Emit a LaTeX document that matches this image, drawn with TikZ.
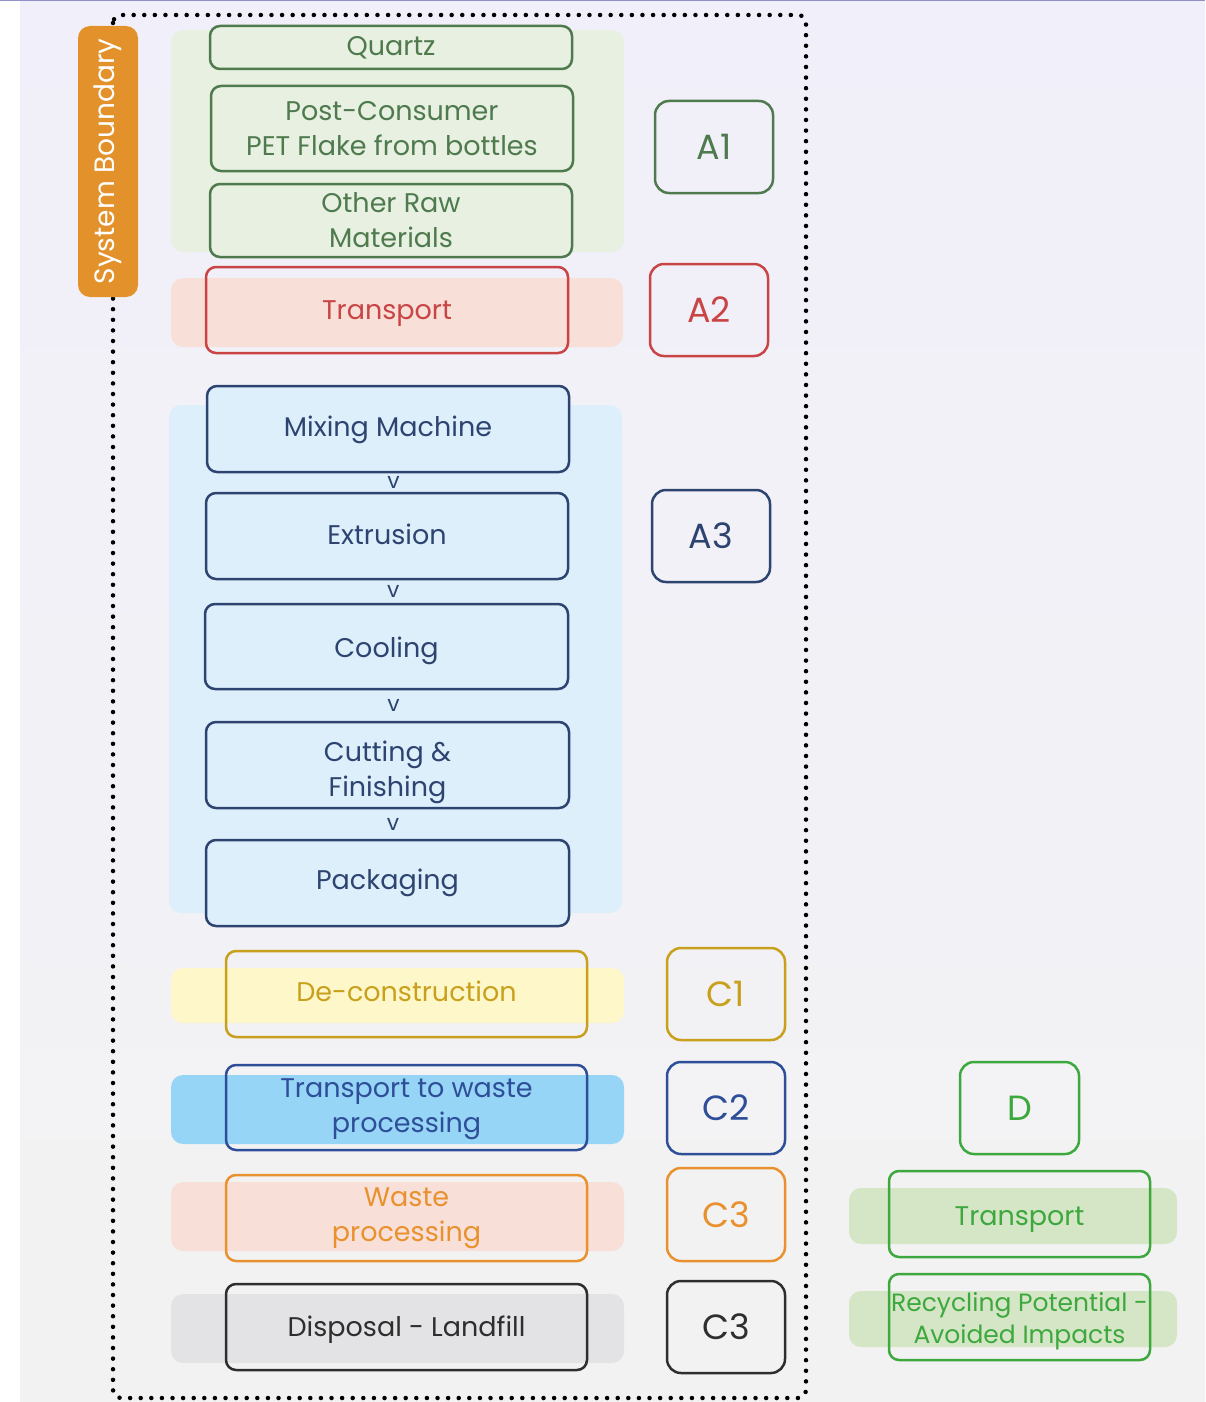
\documentclass[tikz,border=0pt]{standalone}
\usepackage{fontspec}
\setmainfont{Poppins}
\usetikzlibrary{positioning,calc}
\definecolor{bgtop}{HTML}{F1F0FA}
\definecolor{bgbot}{HTML}{F3F2F2}
\definecolor{topline}{HTML}{9191C8}
\definecolor{sysor}{HTML}{E3912A}
\definecolor{gA}{HTML}{4E7A4E}
\definecolor{gAbg}{HTML}{E7F0E1}
\definecolor{rA}{HTML}{C94444}
\definecolor{rAbg}{HTML}{F8DFD7}
\definecolor{nA}{HTML}{2D4470}
\definecolor{nAbg}{HTML}{DEEFFC}
\definecolor{gold}{HTML}{C9A01C}
\definecolor{goldbg}{HTML}{FEF7C9}
\definecolor{bC}{HTML}{2E4E99}
\definecolor{bCbg}{HTML}{96D5F6}
\definecolor{oC}{HTML}{E8912E}
\definecolor{oCbg}{HTML}{F8E0D9}
\definecolor{kC}{HTML}{2E2E2E}
\definecolor{kCbg}{HTML}{E3E3E6}
\definecolor{gD}{HTML}{3DA83D}
\definecolor{gDbg}{HTML}{D4E6C6}
\begin{document}
\begin{tikzpicture}[x=1pt,y=-1pt,
  boxfont/.style={font=\fontsize{27}{35}\selectfont},
  box/.style={draw, rounded corners=10pt, line width=2.5pt, inner sep=0pt,
    align=center, boxfont},
  stagebox/.style={draw, rounded corners=14pt, line width=2.5pt, inner sep=0pt,
    minimum width=118pt, minimum height=92pt, font=\fontsize{35}{40}\selectfont},
  band/.style={rounded corners=12pt},
  chev/.style={text=nA, inner sep=0pt, font=\fontsize{22}{22}\selectfont},
  dots/.style={line width=4.5pt, line cap=round, dash pattern=on 0pt off 10.6pt}
]
\useasboundingbox (0,0) rectangle (1205,1402);
% background
\fill[white] (0,0) rectangle (20,1402);
\shade[top color=bgtop, bottom color=bgbot] (20,0) rectangle (1205,1402);
\draw[topline, line width=1.5pt] (0,0.75) -- (1205,0.75);

% system boundary
\draw[dots, rounded corners=8pt] (113,15) rectangle (806,1398);

% bands
\fill[gAbg, band] (171,30) rectangle (624,252);
\fill[rAbg, band] (171,278) rectangle (623,347);
\fill[nAbg, band] (169,405) rectangle (622,913);
\fill[goldbg, band] (171,968) rectangle (624,1023);
\fill[bCbg, band] (171,1075) rectangle (624,1144);
\fill[oCbg, band] (171,1182) rectangle (624,1251);
\fill[kCbg, band] (171,1294) rectangle (624,1363);
\fill[gDbg, band] (849,1188) rectangle (1177,1244);
\fill[gDbg, band] (849,1291) rectangle (1177,1347);

% system boundary label
\node[fill=sysor, rounded corners=12pt, minimum width=271pt, minimum height=60pt,
  inner sep=0pt, rotate=90, text=white, font=\fontsize{28}{30}\selectfont]
  (sys) at (108,161.5) {System Boundary};

% A1
\node[box, draw=gA, fill=gAbg, text=gA, minimum width=362pt, minimum height=43pt] (quartz) at (391,47.5) {Quartz};
\node[box, draw=gA, fill=gAbg, text=gA, minimum width=362pt, minimum height=85pt] (pet) at (392,128.5) {Post-Consumer\\PET Flake from bottles};
\node[box, draw=gA, fill=gAbg, text=gA, minimum width=362pt, minimum height=73pt] (other) at (391,220.5) {Other Raw\\Materials};
\node[stagebox, draw=gA, text=gA] (A1) at (714,147) {A1};

% A2
\node[box, draw=rA, text=rA, minimum width=362pt, minimum height=86pt, text height=24pt, text depth=6pt] (trans) at (387,310) {Transport};
\node[stagebox, draw=rA, text=rA] (A2) at (709,310) {A2};

% A3
\node[box, draw=nA, fill=nAbg, text=nA, minimum width=362pt, minimum height=86pt, text depth=6pt] (mix) at (388,429) {Mixing Machine};
\node[box, draw=nA, fill=nAbg, text=nA, minimum width=362pt, minimum height=86pt, text depth=4pt] (ext) at (387,536) {Extrusion};
\node[box, draw=nA, fill=nAbg, text=nA, minimum width=363pt, minimum height=85pt, text height=27pt, text depth=6pt] (cool) at (386.5,646.5) {Cooling};
\node[box, draw=nA, fill=nAbg, minimum width=363pt, minimum height=86pt] (cut) at (387.5,765) {};
\node[text=nA, align=center, boxfont, inner sep=0pt] (cuttxt) at ($(cut.center)+(0,7.5)$) {Cutting \&\\Finishing};
\node[box, draw=nA, fill=nAbg, text=nA, minimum width=363pt, minimum height=86pt] (pack) at (387.5,883) {Packaging};
\node[stagebox, draw=nA, text=nA] (A3) at (711,536) {A3};
\node[chev] (v1) at ($(mix.south)!0.5!(ext.north)+(6,0)$) {v};
\node[chev] (v2) at ($(ext.south)!0.5!(cool.north)+(6.5,0)$) {v};
\node[chev] (v3) at ($(cool.south)!0.5!(cut.north)+(6.5,0)$) {v};
\node[chev] (v4) at ($(cut.south)!0.5!(pack.north)+(5.5,0)$) {v};

% C modules
\node[box, draw=gold, text=gold, minimum width=361pt, minimum height=86pt, text depth=5pt] (decon) at (406.5,994) {De-construction};
\node[stagebox, draw=gold, text=gold] (C1) at (726,994) {C1};
\node[box, draw=bC, minimum width=361pt, minimum height=85pt] (tw) at (406.5,1107.5) {};
\node[text=bC, align=center, boxfont, inner sep=0pt] (twtxt) at ($(tw.center)+(0,1.5)$) {Transport to waste\\processing};
\node[stagebox, draw=bC, text=bC] (C2) at (726,1108) {C2};
\node[box, draw=oC, text=oC, minimum width=361pt, minimum height=86pt] (wp) at (406.5,1218) {Waste\\processing};
\node[stagebox, draw=oC, text=oC, minimum height=93pt] (C3a) at (726,1214.5) {C3};
\node[box, draw=kC, text=kC, minimum width=361pt, minimum height=86pt, text height=24pt, text depth=5pt] (disp) at (406.5,1327) {Disposal - Landfill};
\node[stagebox, draw=kC, text=kC] (C3b) at (726,1327) {C3};

% D
\node[stagebox, draw=gD, text=gD, minimum width=119pt] (D) at (1019.5,1108) {D};
\node[box, draw=gD, text=gD, minimum width=261pt, minimum height=86pt, text height=28pt, text depth=6pt] (dtrans) at (1019.5,1214) {Transport};
\node[box, draw=gD, minimum width=261pt, minimum height=86pt] (recyc) at (1019.5,1317) {};
\node[text=gD, align=center, inner sep=0pt, font=\fontsize{25}{32}\selectfont] (recyctxt) at ($(recyc.center)+(0,4)$) {Recycling Potential -\\Avoided Impacts};
\end{tikzpicture}
\end{document}
